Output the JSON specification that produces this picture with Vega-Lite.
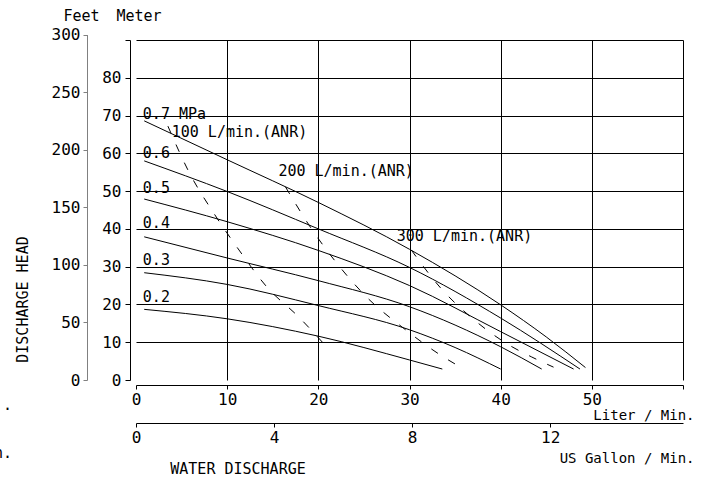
{
  "$schema": "https://vega.github.io/schema/vega-lite/v6.json",
  "width": 547,
  "height": 340,
  "autosize": {"type": "none"},
  "padding": {"left": 136, "top": 40, "right": 30, "bottom": 98},
  "background": "white",
  "config": {
    "view": {"stroke": null},
    "font": "DejaVu Sans Mono",
    "axis": {
      "labelFont": "DejaVu Sans Mono",
      "titleFont": "DejaVu Sans Mono",
      "labelFontSize": 16,
      "titleFontSize": 15,
      "labelColor": "#000",
      "titleColor": "#000",
      "titleFontWeight": "normal",
      "domainColor": "#000",
      "tickColor": "#000",
      "labelFlush": false,
      "labelOverlap": false
    }
  },
  "datasets": {
    "curves": [
      {"p": "0.7", "L": 0.9, "m": 68.6}, {"p": "0.7", "L": 10, "m": 58.3}, {"p": "0.7", "L": 20, "m": 47.0}, {"p": "0.7", "L": 30, "m": 34.6}, {"p": "0.7", "L": 40, "m": 19.9}, {"p": "0.7", "L": 45, "m": 11.4}, {"p": "0.7", "L": 49.3, "m": 3.3},
      {"p": "0.6", "L": 0.9, "m": 58.0}, {"p": "0.6", "L": 10, "m": 49.9}, {"p": "0.6", "L": 20, "m": 40.0}, {"p": "0.6", "L": 30, "m": 29.8}, {"p": "0.6", "L": 40, "m": 16.4}, {"p": "0.6", "L": 48.7, "m": 2.9},
      {"p": "0.5", "L": 0.9, "m": 47.9}, {"p": "0.5", "L": 10, "m": 41.9}, {"p": "0.5", "L": 20, "m": 34.3}, {"p": "0.5", "L": 30, "m": 25.0}, {"p": "0.5", "L": 40, "m": 12.8}, {"p": "0.5", "L": 48, "m": 2.9},
      {"p": "0.4", "L": 0.9, "m": 37.9}, {"p": "0.4", "L": 10, "m": 32.3}, {"p": "0.4", "L": 20, "m": 26.3}, {"p": "0.4", "L": 30, "m": 19.4}, {"p": "0.4", "L": 40, "m": 8.8}, {"p": "0.4", "L": 44.5, "m": 2.9},
      {"p": "0.3", "L": 0.9, "m": 28.4}, {"p": "0.3", "L": 10, "m": 25.3}, {"p": "0.3", "L": 20, "m": 19.7}, {"p": "0.3", "L": 30, "m": 13.3}, {"p": "0.3", "L": 35, "m": 8.6}, {"p": "0.3", "L": 40, "m": 2.9},
      {"p": "0.2", "L": 0.9, "m": 18.7}, {"p": "0.2", "L": 10, "m": 16.2}, {"p": "0.2", "L": 20, "m": 11.6}, {"p": "0.2", "L": 30, "m": 5.3}, {"p": "0.2", "L": 33.6, "m": 2.9}
    ],
    "air": [
      {"q": "100", "L": 3.5, "m": 67.2}, {"q": "100", "L": 5.8, "m": 55.1}, {"q": "100", "L": 8.6, "m": 43.9}, {"q": "100", "L": 11.3, "m": 34.4}, {"q": "100", "L": 14.4, "m": 24.5}, {"q": "100", "L": 17.8, "m": 16.8}, {"q": "100", "L": 20.9, "m": 8.8},
      {"q": "200", "L": 16.4, "m": 51.1}, {"q": "200", "L": 19.2, "m": 40.2}, {"q": "200", "L": 22.1, "m": 30.7}, {"q": "200", "L": 25.4, "m": 21.7}, {"q": "200", "L": 29.3, "m": 13.8}, {"q": "200", "L": 33.4, "m": 6.6}, {"q": "200", "L": 35.6, "m": 3.4},
      {"q": "300", "L": 30.2, "m": 34.4}, {"q": "300", "L": 33.4, "m": 24.4}, {"q": "300", "L": 37.1, "m": 15.9}, {"q": "300", "L": 41.1, "m": 9.0}, {"q": "300", "L": 43.4, "m": 6.1}, {"q": "300", "L": 45.8, "m": 3.4}
    ],
    "labels": [
      {"t": "0.7 MPa", "L": 0.75, "m": 70.3},
      {"t": "0.6", "L": 0.75, "m": 60.1},
      {"t": "0.5", "L": 0.75, "m": 50.7},
      {"t": "0.4", "L": 0.75, "m": 41.5},
      {"t": "0.3", "L": 0.75, "m": 31.7},
      {"t": "0.2", "L": 0.75, "m": 22.0},
      {"t": "100 L/min.(ANR)", "L": 3.92, "m": 65.7},
      {"t": "200 L/min.(ANR)", "L": 15.62, "m": 55.3},
      {"t": "300 L/min.(ANR)", "L": 28.6, "m": 38.0}
    ],
    "edge": [
      {"t": ".", "L": -13.6, "m": -7.9},
      {"t": "n.", "L": -13.6, "m": -20.6}
    ],
    "feet": [{"ft": 0}, {"ft": 300}],
    "gal": [{"gal": 0}, {"gal": 12}]
  },
  "layer": [
    {
      "encoding": {
        "x": {
          "field": "L", "type": "quantitative",
          "scale": {"domain": [0, 60], "nice": false},
          "axis": {
            "title": "Liter / Min.", "orient": "bottom", "offset": 5,
            "values": [0, 10, 20, 30, 40, 50, 60],
            "labelExpr": "datum.value == 60 ? '' : datum.label",
            "tickSize": 4, "labelPadding": 2,
            "grid": true, "gridColor": "#000", "gridWidth": 1,
            "gridOpacity": {"condition": {"test": "datum.value == 0", "value": 0}, "value": 1},
            "titleFontSize": 14,
            "titleX": 558, "titleY": 34, "titleAlign": "right", "titleBaseline": "alphabetic", "titleAnchor": null
          }
        },
        "y": {
          "field": "m", "type": "quantitative",
          "scale": {"domain": [0, 90], "nice": false},
          "axis": {
            "title": "Meter", "orient": "left", "offset": 6,
            "values": [0, 10, 20, 30, 40, 50, 60, 70, 80, 90],
            "labelExpr": "datum.value == 90 ? '' : datum.label",
            "tickSize": 5, "labelPadding": 4,
            "grid": true, "gridColor": "#000", "gridWidth": 1,
            "gridOpacity": {"condition": {"test": "datum.value == 0", "value": 0}, "value": 1},
            "titleAngle": 0, "titleX": 8.5, "titleY": -19.5, "titleAlign": "center", "titleBaseline": "alphabetic", "titleAnchor": null
          }
        }
      },
      "layer": [
        {
          "data": {"name": "curves"},
          "mark": {"type": "line", "color": "#000", "strokeWidth": 1, "interpolate": "monotone"},
          "encoding": {"detail": {"field": "p"}}
        },
        {
          "data": {"name": "air"},
          "mark": {"type": "line", "color": "#000", "strokeWidth": 1, "strokeDash": [8, 12], "interpolate": "monotone"},
          "encoding": {"detail": {"field": "q"}}
        },
        {
          "data": {"name": "labels"},
          "mark": {"type": "text", "align": "left", "baseline": "middle", "fontSize": 15, "font": "DejaVu Sans Mono", "color": "#000"},
          "encoding": {"text": {"field": "t"}}
        },
        {
          "data": {"name": "edge"},
          "mark": {"type": "text", "align": "right", "baseline": "alphabetic", "fontSize": 15, "font": "DejaVu Sans Mono", "color": "#000"},
          "encoding": {"text": {"field": "t"}}
        }
      ]
    },
    {
      "data": {"name": "feet"},
      "mark": {"type": "point", "opacity": 0},
      "encoding": {
        "y": {
          "field": "ft", "type": "quantitative",
          "scale": {"domain": [0, 300], "range": [340, -5.4], "nice": false},
          "axis": {
            "title": "Feet", "orient": "left", "offset": 49,
            "values": [0, 50, 100, 150, 200, 250, 300],
            "tickSize": 4, "labelPadding": 3,
            "domainColor": "#808080", "tickColor": "#808080", "grid": false,
            "titleAngle": 0, "titleX": -6, "titleY": -19.5, "titleAlign": "center", "titleBaseline": "alphabetic", "titleAnchor": null
          }
        }
      }
    },
    {
      "data": {"name": "feet"},
      "mark": {"type": "point", "opacity": 0},
      "encoding": {
        "y": {
          "field": "ft", "type": "quantitative",
          "scale": {"domain": [0, 300]},
          "axis": {
            "title": "DISCHARGE  HEAD", "orient": "left", "offset": 0,
            "labels": false, "ticks": false, "domain": false, "grid": false,
            "titleAngle": -90, "titleX": -114, "titleY": 259, "titleAlign": "center", "titleBaseline": "middle", "titleAnchor": null
          }
        }
      }
    },
    {
      "data": {"name": "gal"},
      "mark": {"type": "point", "opacity": 0},
      "encoding": {
        "x": {
          "field": "gal", "type": "quantitative",
          "scale": {"domain": [0, 15.8503], "nice": false},
          "axis": {
            "title": "US Gallon / Min.", "orient": "bottom", "offset": 43,
            "values": [0, 4, 8, 12],
            "tickSize": 4, "labelPadding": 2, "grid": false,
            "titleFontSize": 14,
            "titleX": 558, "titleY": 39, "titleAlign": "right", "titleBaseline": "alphabetic", "titleAnchor": null
          }
        }
      }
    },
    {
      "data": {"name": "gal"},
      "mark": {"type": "point", "opacity": 0},
      "encoding": {
        "x": {
          "field": "gal", "type": "quantitative",
          "scale": {"domain": [0, 15.8503]},
          "axis": {
            "title": "WATER  DISCHARGE", "orient": "bottom", "offset": 0,
            "labels": false, "ticks": false, "domain": false, "grid": false,
            "titleX": 101.5, "titleY": 93, "titleAlign": "center", "titleBaseline": "alphabetic", "titleAnchor": null
          }
        }
      }
    }
  ],
  "resolve": {"scale": {"x": "independent", "y": "independent"}}
}
